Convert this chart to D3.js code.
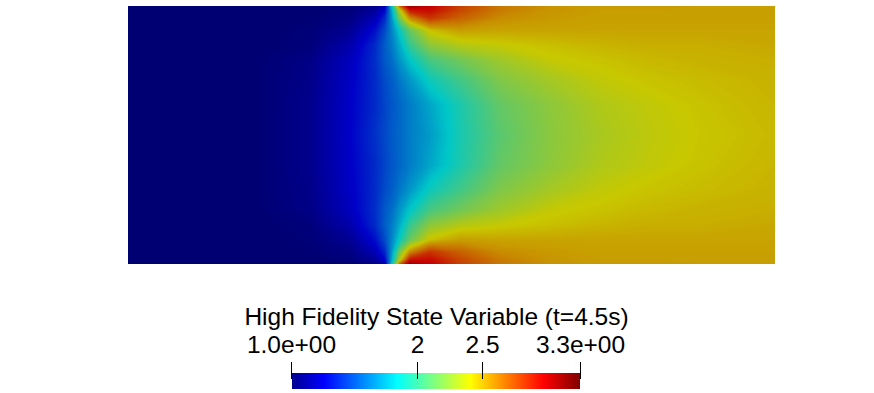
<!DOCTYPE html>
<html><head><meta charset="utf-8">
<script src="https://cdn.jsdelivr.net/npm/d3@7"></script>
<style>html,body{margin:0;padding:0;background:#fff;overflow:hidden}svg{display:block}
text{font-family:"Liberation Sans",Arial,sans-serif;fill:#000}</style></head><body>
<svg id="c" width="874" height="393"></svg>
<script>
const titleText = "High Fidelity State Variable (t=4.5s)";
const tickValues = [1, 2, 2.5, 3.3];
const tickLabels = ["1.0e+00", "2", "2.5", "3.3e+00"];
const jetStops = [0, 0.1111, 0.3651, 0.4921, 0.6190, 0.8730, 1];
const jetColors = ["#000090", "#0000ff", "#00ffff", "#80ff80", "#ffff00", "#ff0000", "#800000"];
const xCoords = [128,200,260,310,350,375,385,392,400,410,430,460,500,550,600,650,700,775];
const yCoords = [6,10,18,30,45,60,80,105,135,165,190,210,225,240,252,260,264];
const row06 = [1.00,1.00,1.00,1.00,1.02,1.08,1.20,1.85,2.70,3.15,3.02,2.82,2.66,2.58,2.55,2.55,2.55,2.55];
const row10 = [1.00,1.00,1.00,1.00,1.03,1.12,1.28,1.75,2.40,2.95,2.98,2.80,2.65,2.57,2.55,2.55,2.54,2.54];
const row18 = [1.00,1.00,1.00,1.01,1.05,1.20,1.38,1.70,2.20,2.60,2.85,2.72,2.60,2.56,2.54,2.54,2.54,2.54];
const row30 = [1.00,1.00,1.00,1.02,1.10,1.30,1.48,1.65,1.88,2.15,2.45,2.55,2.53,2.53,2.53,2.53,2.53,2.53];
const row45 = [1.00,1.00,1.00,1.03,1.17,1.38,1.53,1.62,1.77,2.00,2.25,2.36,2.41,2.45,2.48,2.50,2.50,2.52];
const row60 = [1.00,1.00,1.01,1.06,1.22,1.39,1.52,1.58,1.70,1.84,2.05,2.17,2.30,2.41,2.44,2.47,2.49,2.50];
const row80 = [1.00,1.00,1.01,1.07,1.24,1.38,1.48,1.53,1.61,1.70,1.88,2.03,2.21,2.32,2.40,2.44,2.46,2.49];
const row105 = [1.00,1.00,1.01,1.08,1.25,1.38,1.46,1.51,1.56,1.62,1.74,1.92,2.13,2.25,2.35,2.40,2.44,2.48];
const row135 = [1.00,1.00,1.01,1.08,1.255,1.40,1.47,1.52,1.56,1.62,1.71,1.91,2.10,2.24,2.33,2.39,2.43,2.47];
const field = [row06,row10,row18,row30,row45,row60,row80,row105,row135,row105,row80,row60,row45,row30,row18,row10,row06];
const shade = 0.785;

const svg = d3.select("#c");
const vMin = 1, vMax = 3.3;
const norm = d3.scaleLinear().domain([vMin, vMax]).range([0, 1]);
const jet = d3.scaleLinear().domain(jetStops).range(jetColors).interpolate(d3.interpolateRgb).clamp(true);
const lit = v => { const c = d3.rgb(jet(norm(v))); return d3.rgb(c.r*shade, c.g*shade, c.b*shade).formatRgb(); };

const n = xCoords.length, m = yCoords.length;
const gx = d3.scaleLinear().domain(xCoords.map((_, i) => i + 0.5)).range(xCoords).clamp(true);
const gy = d3.scaleLinear().domain(yCoords.map((_, i) => i + 0.5)).range(yCoords).clamp(true);
const proj = d3.geoTransform({ point(x, y) { this.stream.point(gx(x), gy(y)); } });
const path = d3.geoPath(proj);
const step = 0.005;
const thresholds = d3.range(vMin - step, vMax, step);
const contours = d3.contours().size([n, m]).smooth(true).thresholds(thresholds)(field.flat());
svg.append("g").selectAll("path").data(contours).join("path")
  .attr("d", path).attr("fill", d => lit(d.value + step / 2));

const bar = d3.scaleLinear().domain(tickValues).range([291, 417, 482, 580]);
const grad = svg.append("defs").append("linearGradient").attr("id", "jet");
grad.selectAll("stop").data(jetStops).join("stop")
  .attr("offset", d => d).attr("stop-color", (d, i) => jetColors[i]);
svg.append("rect").attr("x", bar(vMin) + 1).attr("y", 373).attr("width", bar(vMax) - bar(vMin) - 1).attr("height", 16).attr("fill", "url(#jet)");
const axis = d3.axisTop(bar).tickValues(tickValues).tickFormat((d, i) => tickLabels[i]).tickSize(17).tickPadding(9);
const ga = svg.append("g").attr("transform", "translate(0,379)").call(axis);
ga.select(".domain").remove();
ga.selectAll("line").attr("stroke", "#000");
ga.selectAll("text").attr("font-size", 24.5).attr("font-family", '"Liberation Sans",sans-serif').attr("fill", "#000");
svg.append("text").attr("x", 436.5).attr("y", 325).attr("text-anchor", "middle").attr("font-size", 24.5).text(titleText);
</script></body></html>
